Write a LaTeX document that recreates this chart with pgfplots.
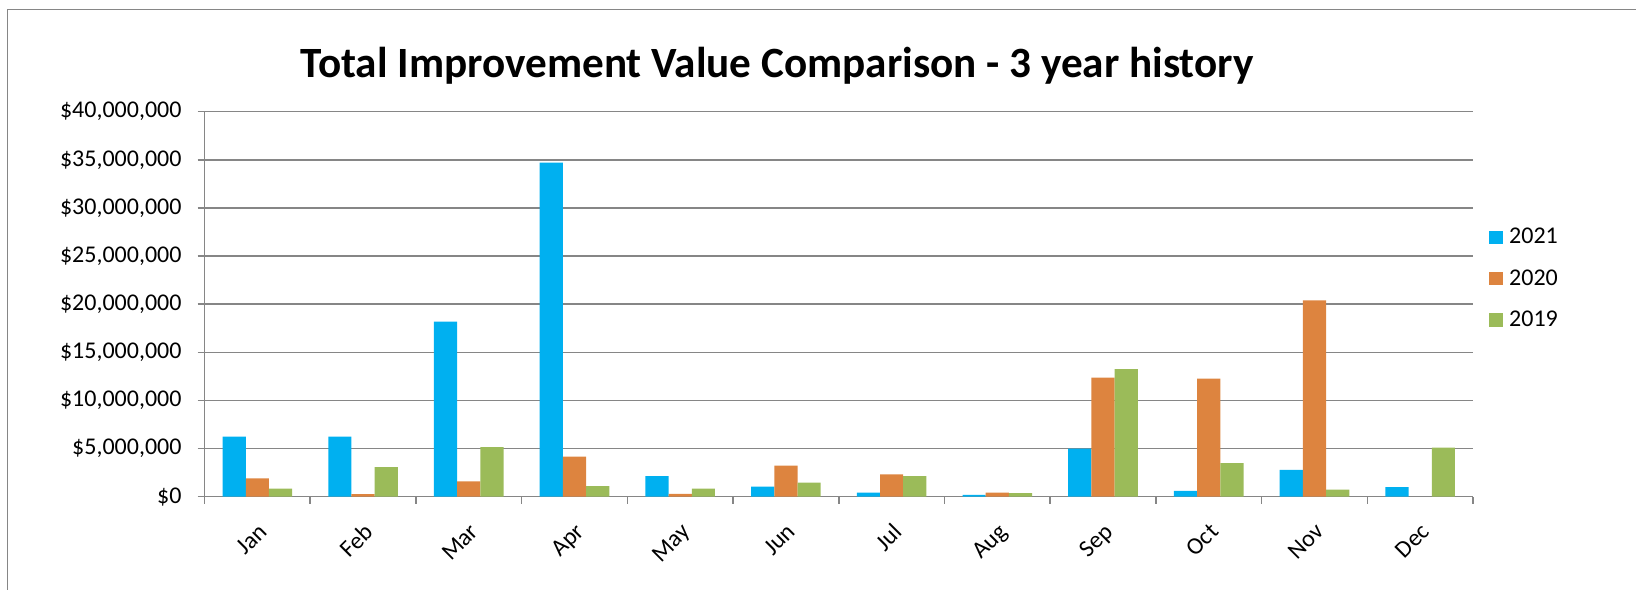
\documentclass[border=0pt]{standalone}
\usepackage{pgfplots}
\pgfplotsset{compat=1.18}
\usepackage{fontspec}
\setmainfont{Carlito}
\definecolor{c21}{RGB}{0,176,240}
\definecolor{c20}{RGB}{221,132,63}
\definecolor{c19}{RGB}{155,187,89}
\definecolor{gridc}{RGB}{134,134,134}
\begin{document}
\begin{tikzpicture}
\useasboundingbox (0,0) rectangle (818pt,294.5pt);
\draw[gridc, line width=0.8pt] (3.65pt,-10pt) -- (3.65pt,289.8pt) -- (830pt,289.8pt);
\node[anchor=base, inner sep=0pt, font=\fontsize{21.6}{25}\selectfont\bfseries] at (388.5pt,255.5pt) {Total Improvement Value Comparison - 3 year history};
\begin{axis}[
  at={(102.25pt,46.15pt)}, anchor=south west,
  scale only axis, width=634.25pt, height=192.5pt,
  ybar=0pt, bar width=11.6pt,
  xmin=-0.5, xmax=11.5, ymin=0, ymax=40000000,
  axis x line*=bottom, axis y line*=left,
  axis line style={gridc, line width=0.75pt},
  tick style={gridc, line width=0.75pt},
  tick align=outside, major tick length=3.5pt, minor tick length=3.5pt,
  xtick={0,1,2,3,4,5,6,7,8,9,10,11},
  xticklabels={Jan,Feb,Mar,Apr,May,Jun,Jul,Aug,Sep,Oct,Nov,Dec},
  minor xtick={-0.5,0.5,1.5,2.5,3.5,4.5,5.5,6.5,7.5,8.5,9.5,10.5,11.5},
  major x tick style={draw=none},
  xticklabel style={rotate=45, anchor=north east, inner sep=0pt},
  xticklabel shift=9pt,
  ytick={0,5000000,10000000,15000000,20000000,25000000,30000000,35000000,40000000},
  yticklabels={{\$0},{\$5,000,000},{\$10,000,000},{\$15,000,000},{\$20,000,000},{\$25,000,000},{\$30,000,000},{\$35,000,000},{\$40,000,000}},
  yticklabel style={anchor=east, inner sep=0pt},
  yticklabel shift=7.8pt,
  scaled y ticks=false,
  tick label style={font=\fontsize{12}{14}\selectfont},
  ymajorgrids, major grid style={gridc, line width=0.75pt},
  legend image code/.code={\fill[#1] (0pt,-3.3pt) rectangle (6.65pt,3.35pt);},
  legend style={at={(1.01285,0.566)}, anchor=west, draw=none, fill=none,
    inner sep=0pt, outer sep=0pt, row sep=11.4pt,
    font=\fontsize{12}{14}\selectfont,
    nodes={inner sep=0pt},
    /tikz/every odd column/.append style={column sep=3.3pt}},
  legend cell align=left,
]
\addplot[fill=c21, draw=none] coordinates {(0,6250000) (1,6250000) (2,18200000) (3,34700000) (4,2150000) (5,1040000) (6,420000) (7,200000) (8,5000000) (9,600000) (10,2800000) (11,1000000)};
\addplot[fill=c20, draw=none] coordinates {(0,1900000) (1,280000) (2,1600000) (3,4170000) (4,300000) (5,3230000) (6,2330000) (7,420000) (8,12360000) (9,12260000) (10,20400000)};
\addplot[fill=c19, draw=none] coordinates {(0,830000) (1,3060000) (2,5140000) (3,1100000) (4,830000) (5,1460000) (6,2150000) (7,380000) (8,13260000) (9,3500000) (10,730000) (11,5100000)};
\legend{2021,2020,2019}
\end{axis}
\end{tikzpicture}
\end{document}
